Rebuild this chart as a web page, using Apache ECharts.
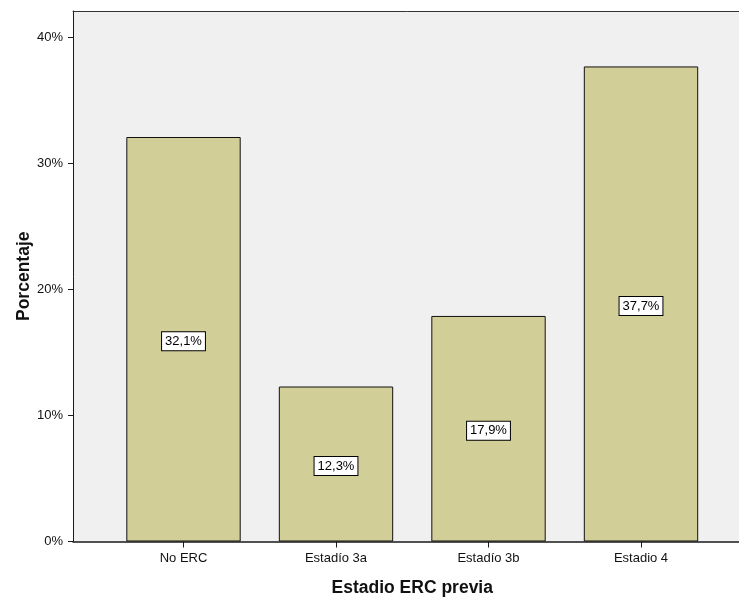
<!DOCTYPE html>
<html>
<head>
<meta charset="utf-8">
<script src="https://cdn.jsdelivr.net/npm/echarts@6/dist/echarts.min.js"></script>
<style>html,body{margin:0;padding:0;background:#fff}#c{width:739px;height:598px}</style>
</head>
<body>
<div id="c"></div>
<script>
const categories = ['No ERC', 'Estadío 3a', 'Estadío 3b', 'Estadio 4'];
const percentages = [32.1, 12.3, 17.9, 37.7];
const yTicks = [0, 10, 20, 30, 40];
const xTitle = 'Estadio ERC previa';
const yTitle = 'Porcentaje';

const FONT = '"Liberation Sans", Arial, sans-serif';
const YMAX = 42.1;
const chart = echarts.init(document.getElementById('c'), null, {renderer: 'canvas'});
chart.setOption({
  animation: false,
  backgroundColor: '#ffffff',
  grid: [
    {left: 73, top: 11, width: 700, bottom: 56.5, show: true, backgroundColor: '#f0f0f0', borderWidth: 0, z: 0, outerBoundsMode: 'none', containLabel: false},
    {left: 107.25, top: 11, width: 610, bottom: 56.5, show: false, outerBoundsMode: 'none', containLabel: false}
  ],
  xAxis: [
    {gridIndex: 0, type: 'value', min: 0, max: 1, show: true, position: 'bottom',
     axisLine: {show: true, lineStyle: {color: '#1a1a1a', width: 1.5}},
     axisTick: {show: false}, axisLabel: {show: false}, splitLine: {show: false}},
    {gridIndex: 0, type: 'value', min: 0, max: 1, show: true, position: 'top',
     axisLine: {show: true, lineStyle: {color: '#333', width: 1}},
     axisTick: {show: false}, axisLabel: {show: false}, splitLine: {show: false}},
    {gridIndex: 1, type: 'category', data: categories,
     axisLine: {show: false},
     axisTick: {show: true, alignWithLabel: true, length: 6, lineStyle: {color: '#1a1a1a'}},
     axisLabel: {color: '#111', fontFamily: FONT, fontSize: 13, margin: 10},
     name: xTitle, nameLocation: 'middle', nameGap: 38, nameMoveOverlap: false,
     nameTextStyle: {fontFamily: FONT, fontSize: 17.5, fontWeight: 'bold', color: '#111'}}
  ],
  yAxis: [
    {gridIndex: 0, type: 'value', min: 0, max: YMAX, interval: 10,
     axisLine: {show: true, lineStyle: {color: '#1a1a1a'}},
     axisTick: {show: true, length: 5, lineStyle: {color: '#1a1a1a'}, customValues: yTicks},
     splitLine: {show: false},
     axisLabel: {color: '#111', fontFamily: FONT, fontSize: 13, margin: 10, customValues: yTicks,
       formatter: function (v) { return v + '%'; }},
     name: yTitle, nameLocation: 'middle', nameGap: 40, nameMoveOverlap: false,
     nameTextStyle: {fontFamily: FONT, fontSize: 17.5, fontWeight: 'bold', color: '#111'}},
    {gridIndex: 1, type: 'value', min: 0, max: YMAX, show: false}
  ],
  series: [{
    type: 'bar', xAxisIndex: 2, yAxisIndex: 1, data: percentages,
    barWidth: '75%',
    itemStyle: {color: '#d2ce98', borderColor: '#111', borderWidth: 1},
    label: {show: true, position: 'inside', offset: [0, 2], color: '#000', fontFamily: FONT, fontSize: 13,
      backgroundColor: '#fff', borderColor: '#000', borderWidth: 1, padding: [3, 3, 2, 3],
      formatter: function (p) { return p.value.toFixed(1).replace('.', ',') + '%'; }}
  }]
});
</script>
</body>
</html>
